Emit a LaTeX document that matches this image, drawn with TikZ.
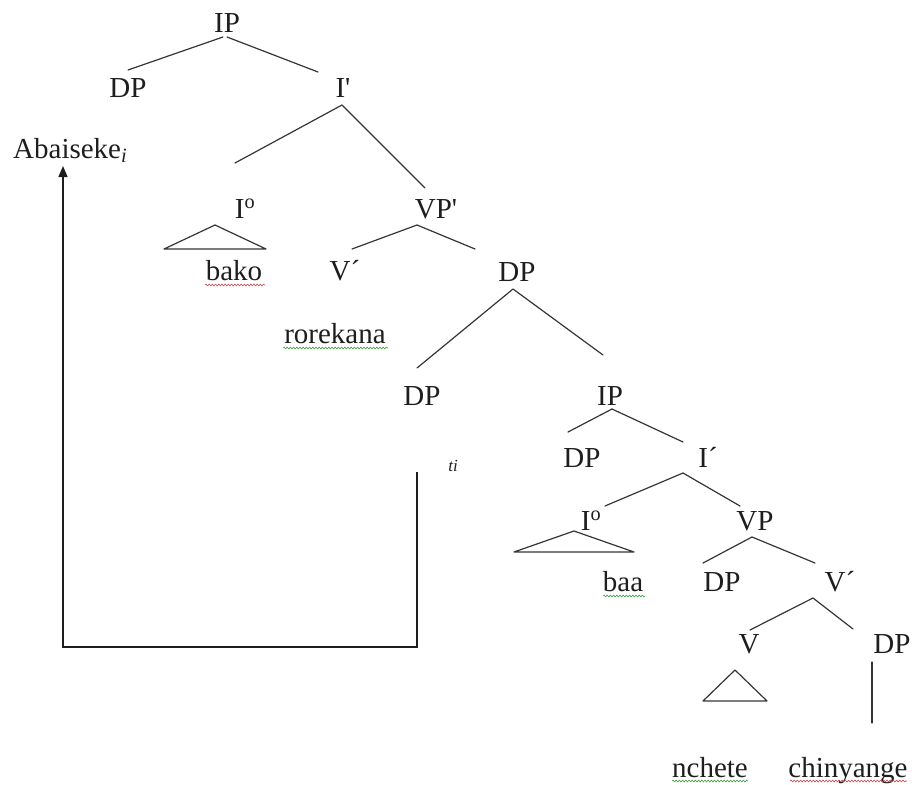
\documentclass[tikz,border=0pt]{standalone}
\usepackage{fontspec}
\setmainfont{Liberation Serif}
\usetikzlibrary{arrows.meta,decorations.pathmorphing}
\definecolor{ink}{HTML}{1E1E1E}
\definecolor{wred}{HTML}{D04848}
\definecolor{wgreen}{HTML}{3FA03F}
\tikzset{
  lab/.style={font=\fontsize{29}{34}\selectfont, text=ink, inner sep=0pt, anchor=base},
  br/.style={line width=1.2pt, draw=ink!90, line cap=round, line join=round},
  mv/.style={line width=1.5pt, draw=ink, -{Triangle[length=11pt,width=9pt]}},
  wav/.style={decorate, decoration={snake, segment length=3.2pt, amplitude=0.9pt}, line width=0.6pt}
}
\begin{document}
\begin{tikzpicture}[x=1pt,y=-1pt]
\useasboundingbox (0,0) rectangle (912,784);
% ---- labels
\node[lab] (ip1) at (227,33) {IP};
\node[lab] (dp1) at (128,97) {DP};
\node[lab] (ib1) at (343,97) {I\textquotesingle};
\node[lab, anchor=base west] (abai) at (13,158) {Abaiseke\textsubscript{\textit{i}}};
\node[lab] (io1) at (245,218) {I\textsuperscript{o}};
\node[lab] (vpb) at (436,218) {VP\textquotesingle};
\node[lab] (bako) at (234,280) {bako};
\node[lab] (vb1) at (345,280) {V´};
\node[lab] (dp2) at (517,281) {DP};
\node[lab] (rore) at (335,343) {rorekana};
\node[lab] (dp3) at (422,405) {DP};
\node[lab] (ip2) at (610,405) {IP};
\node[lab] (dp4) at (582,467) {DP};
\node[lab] (ib2) at (708,467) {I´};
\node[lab, font=\fontsize{17}{20}\selectfont\itshape] (ti) at (453,471) {ti};
\node[lab] (io2) at (591,530) {I\textsuperscript{o}};
\node[lab] (vp2) at (755,530) {VP};
\node[lab] (baa) at (623,591) {baa};
\node[lab] (dp5) at (722,591) {DP};
\node[lab] (vb2) at (840,591) {V´};
\node[lab] (v1) at (749,653) {V};
\node[lab] (dp6) at (892,653) {DP};
\node[lab] (nch) at (710,777) {nchete};
\node[lab] (chi) at (848,777) {chinyange};
% ---- branch end points
\coordinate (a1) at (223,37);  \coordinate (a2) at (128,70);
\coordinate (b1) at (227,37);  \coordinate (b2) at (318,72);
\coordinate (c0) at (342,105); \coordinate (c1) at (235,163); \coordinate (c2) at (425,188);
\coordinate (t1a) at (215,225); \coordinate (t1b) at (164,249); \coordinate (t1c) at (266,249);
\coordinate (d0) at (417,225); \coordinate (d1) at (352,249); \coordinate (d2) at (475,249);
\coordinate (e0) at (513,289); \coordinate (e1) at (417,368); \coordinate (e2) at (603,355);
\coordinate (f0) at (612,409); \coordinate (f1) at (568,432); \coordinate (f2) at (683,442);
\coordinate (g0) at (683,473); \coordinate (g1) at (605,506); \coordinate (g2) at (740,506);
\coordinate (t2a) at (574,531); \coordinate (t2b) at (514,552); \coordinate (t2c) at (634,552);
\coordinate (h0) at (752,537); \coordinate (h1) at (703,563); \coordinate (h2) at (815,563);
\coordinate (k0) at (813,598); \coordinate (k1) at (750,630); \coordinate (k2) at (853,629);
\coordinate (t3a) at (735,670); \coordinate (t3b) at (703,701); \coordinate (t3c) at (767,701);
\coordinate (m0) at (872,662); \coordinate (m1) at (872,723);
% ---- branches
\draw[br] (a2) -- (a1);
\draw[br] (b1) -- (b2);
\draw[br] (c1) -- (c0) -- (c2);
\draw[br] (t1a) -- (t1b) -- (t1c) -- cycle;
\draw[br] (d1) -- (d0) -- (d2);
\draw[br] (e1) -- (e0) -- (e2);
\draw[br] (f1) -- (f0) -- (f2);
\draw[br] (g1) -- (g0) -- (g2);
\draw[br] (t2a) -- (t2b) -- (t2c) -- cycle;
\draw[br] (h1) -- (h0) -- (h2);
\draw[br] (k1) -- (k0) -- (k2);
\draw[br] (t3a) -- (t3b) -- (t3c) -- cycle;
\draw[br] (m0) -- (m1);
% ---- movement arrow
\coordinate (tr1) at (417,472);
\coordinate (tr2) at (417,647);
\coordinate (ab1) at (63,647);
\coordinate (ab2) at (63,166);
\draw[mv] (tr1) -- (tr2) -- (ab1) -- (ab2);
% ---- spell-check underlines
\draw[wav, wred] (205,285) -- (265,285);
\draw[wav, wgreen] (283,348) -- (388,348);
\draw[wav, wgreen] (603,596) -- (645,596);
\draw[wav, wgreen] (672,781) -- (748,781);
\draw[wav, wred] (790,781) -- (907,781);
\end{tikzpicture}
\end{document}
